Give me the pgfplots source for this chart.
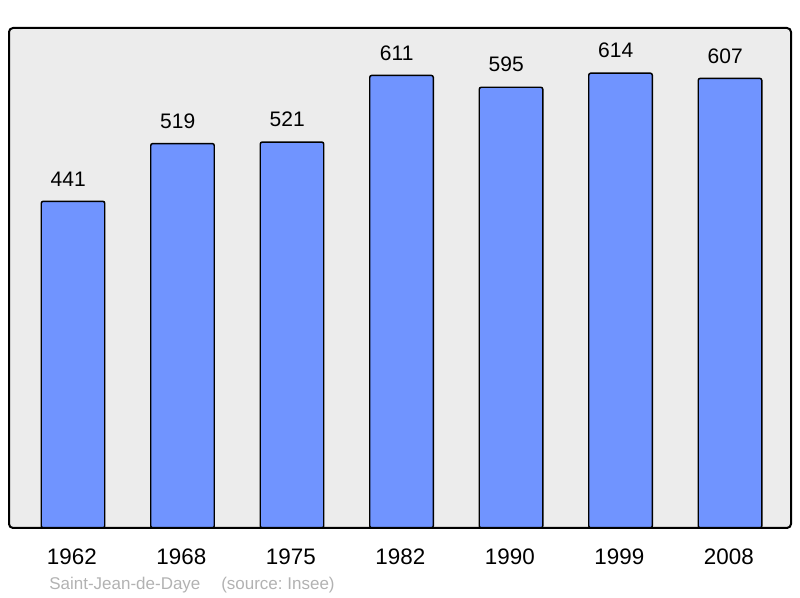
\documentclass[border=0pt]{standalone}
\usepackage{fontspec}
\setmainfont{Liberation Sans}
\usepackage{pgfplots}
\pgfplotsset{compat=1.18}
\definecolor{bggray}{RGB}{236,236,236}
\definecolor{barblue}{RGB}{112,148,255}
\definecolor{srcgray}{RGB}{178,178,178}
\frenchspacing
\begin{document}
\begin{tikzpicture}[x=1pt,y=1pt]
\path[use as bounding box] (0,0) rectangle (600,448.5);
\fill[bggray, rounded corners=3pt] (6.75,52.5) rectangle (593.25,427.5);
\begin{axis}[
  at={(6.75pt,52.5pt)}, anchor=south west,
  scale only axis, width=586.5pt, height=375pt,
  xmin=-0.5845, xmax=6.557, ymin=0, ymax=675,
  axis line style={draw=none},
  xtick=data,
  xticklabels={1962,1968,1975,1982,1990,1999,2008},
  ytick=\empty,
  major tick length=0pt,
  /pgf/number format/assume math mode=true,
  xticklabel style={font=\fontsize{16.8}{20}\selectfont, anchor=center, yshift=-21.6pt, xshift=-0.9pt},
  ybar, bar width=0.58,
  nodes near coords,
  every node near coord/.append style={font=\fontsize{15.75}{19}\selectfont, anchor=center, yshift=16.9pt, xshift=-3.6pt, text=black},
  clip=false,
]
\addplot[fill=barblue, draw=black, line width=1.1pt, rounded corners=1.5pt] coordinates {(0,441) (1,519) (2,521) (3,611) (4,595) (5,614) (6,607)};
\end{axis}
\draw[line width=1.5pt, rounded corners=3pt] (6.75,52.5) rectangle (593.25,427.5);
\node[anchor=base west, inner sep=0pt, text=srcgray, font=\fontsize{12.75}{15}\selectfont] at (36.75,6) {Saint-Jean-de-Daye};
\node[anchor=base west, inner sep=0pt, text=srcgray, font=\fontsize{12.75}{15}\selectfont] at (165.75,6) {(source: Insee)};
\end{tikzpicture}
\end{document}
